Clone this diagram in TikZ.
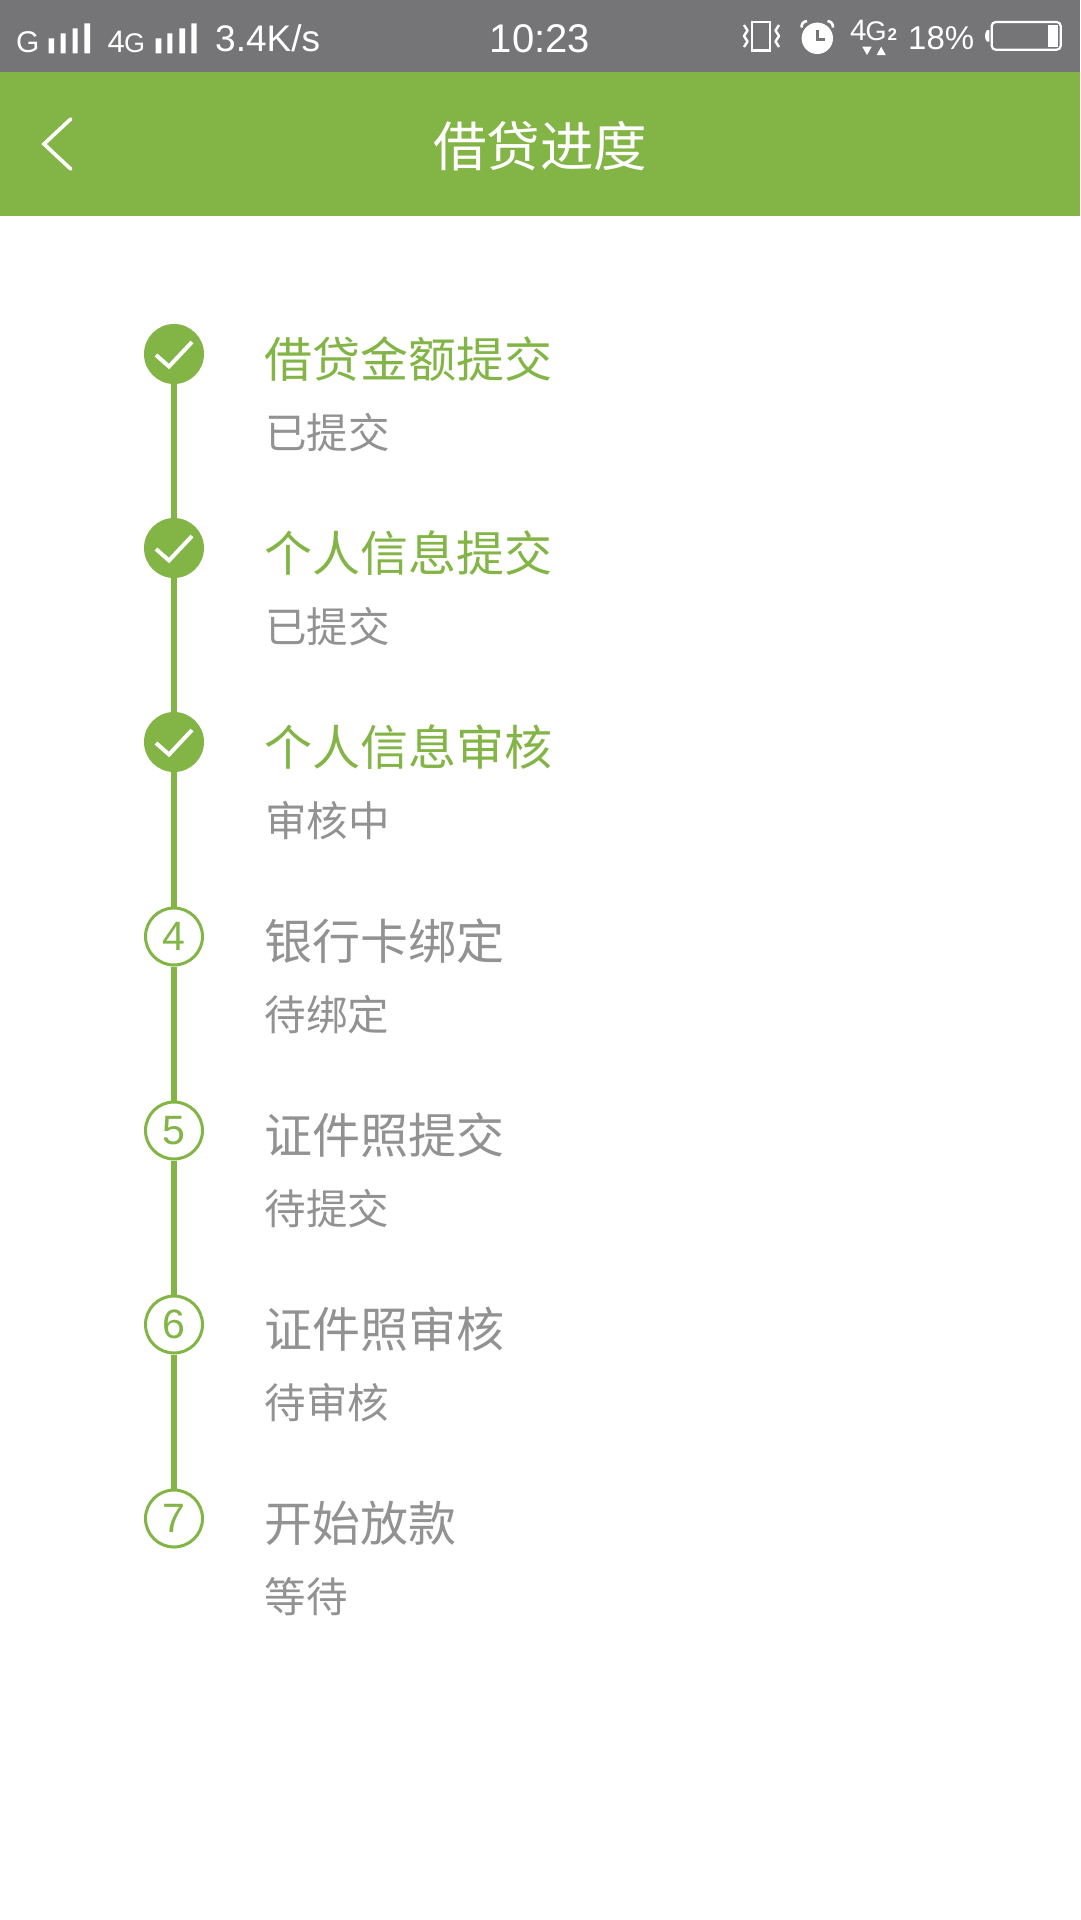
\documentclass[tikz,border=0pt]{standalone}
\usepackage{fontspec}
\setmainfont{Liberation Sans}
\newfontfamily\cjk{Noto Sans CJK SC}
\definecolor{appgreen}{HTML}{82B545}
\definecolor{bargray}{HTML}{757577}
\definecolor{txtgray}{HTML}{929292}
\newcommand{\fs}[1]{\fontsize{#1}{#1}\selectfont}
\tikzset{
  stat/.style={text=white,inner sep=0pt,anchor=base west},
  wbar/.style={fill=white,draw=none},
  donedot/.style={circle,fill=appgreen,draw=none,minimum size=60pt,inner sep=0pt},
  opendot/.style={circle,fill=white,draw=appgreen,line width=3pt,minimum size=57pt,inner sep=0pt,text=appgreen,font=\fs{41}},
  link/.style={draw=appgreen,line width=6pt},
  tick/.style={draw=white,line width=4pt},
  hdone/.style={anchor=west,inner sep=0pt,text=appgreen,font=\cjk\fs{48}},
  htodo/.style={anchor=west,inner sep=0pt,text=txtgray,font=\cjk\fs{48}},
  subtxt/.style={anchor=west,inner sep=0pt,text=txtgray,font=\cjk\fs{41.5}},
  wline/.style={draw=white,line width=2.4pt}
}
\begin{document}
\begin{tikzpicture}[x=1pt,y=-1pt]
\useasboundingbox (0,0) rectangle (1080,1920);
\fill[white] (0,0) rectangle (1080,1920);
\fill[bargray] (0,0) rectangle (1080,72);
\fill[appgreen] (0,72) rectangle (1080,216);
% status bar left
\node[stat,font=\fs{30}] (g1) at (16,52.3) {G};
\fill[wbar] (48.7,38.3) rectangle (54,53.3) (60.7,33.3) rectangle (65.7,53.3) (72.7,28.3) rectangle (77.7,53.3) (84.3,23.3) rectangle (90,53.3);
\node[stat,font=\fs{31}] (g2a) at (107.5,52.3) {4};
\node[stat,font=\fs{27}] (g2b) at (124,52.3) {G};
\fill[wbar] (155.7,38.3) rectangle (161.3,53.3) (167.3,33.3) rectangle (172.3,53.3) (179.3,28.3) rectangle (185,53.3) (191.3,23.3) rectangle (196.7,53.3);
\node[stat,font=\fs{37}] (speed) at (215,51) {3.4K/s};
\node[stat,anchor=base,font=\fs{40}] (clock) at (540,52) {10:23};
% vibrate
\draw[wline] (752,22) rectangle (770,50.5);
\draw[wline,line width=2.4pt,line join=round] (744,25) -- (747.5,30.5) -- (744,36) -- (747.5,41.5) -- (744,47);
\draw[wline,line width=2.4pt,line join=round] (779,25) -- (775.5,30.5) -- (779,36) -- (775.5,41.5) -- (779,47);
% alarm
\fill[white] (817.3,38.3) circle (15.7);
\draw[bargray,line width=2.6pt] (817.3,30) -- (817.3,39.3) -- (825,39.3);
\draw[wline,line width=2.6pt] (801.5,27.5) .. controls (801.5,24) and (803,21.5) .. (807,21);
\draw[wline,line width=2.6pt] (833,27.5) .. controls (833,24) and (831.5,21.5) .. (827.5,21);
% 4G2
\node[stat,font=\fs{29.5}] (net4) at (850,40.7) {4};
\node[stat,font=\fs{27}] (netg) at (865.5,40.7) {G};
\node[stat,font=\bfseries\fs{17}] (net2) at (887.5,40.7) {2};
\fill[white] (862.3,46.7) -- (871.7,46.7) -- (867,55) -- cycle;
\fill[white] (876.7,55) -- (885.7,55) -- (881.2,46.7) -- cycle;
\node[stat,font=\fs{33}] (batt) at (908,49.5) {18\%};
% battery
\draw[white,line width=2.2pt,rounded corners=4pt] (991.7,22) rectangle (1060.7,49.7);
\fill[white] (1048,25) rectangle (1058,46.7);
\fill[white] (989.3,30) -- (987,30) .. controls (985.5,32) and (985,34) .. (985,36) .. controls (985,38) and (985.5,40) .. (987,41.7) -- (989.3,41.7) -- cycle;
% header
\draw[white,line width=3.7pt,line cap=round,line join=miter] (70.7,119) -- (44,144) -- (70.7,169);
\node[inner sep=0pt,text=white,font=\cjk\fs{53.5}] (title) at (540,146) {借贷进度};
% steps
\node[donedot] (s1) at (174,354) {};
\node[donedot] (s2) at (174,548) {};
\node[donedot] (s3) at (174,742) {};
\node[opendot] (s4) at (174,936.5) {\raisebox{-5pt}{4}};
\node[opendot] (s5) at (174,1130.5) {\raisebox{-5pt}{5}};
\node[opendot] (s6) at (174,1324.5) {\raisebox{-5pt}{6}};
\node[opendot] (s7) at (174,1518.5) {\raisebox{-5pt}{7}};
\foreach \a/\b in {s1/s2,s2/s3,s3/s4,s4/s5,s5/s6,s6/s7}
  \draw[link] (\a) -- (\b);
\foreach \n in {s1,s2,s3}
  \draw[tick] ([shift={(-18,1)}]\n.center) -- ([shift={(-5,12.5)}]\n.center) -- ([shift={(18,-12)}]\n.center);
% labels
\node[hdone] (t1) at (264,359) {借贷金额提交};
\node[subtxt] (d1) at (265,433) {已提交};
\node[hdone] (t2) at (264,553) {个人信息提交};
\node[subtxt] (d2) at (265,627) {已提交};
\node[hdone] (t3) at (264,747) {个人信息审核};
\node[subtxt] (d3) at (265,821) {审核中};
\node[htodo] (t4) at (264,941) {银行卡绑定};
\node[subtxt] (d4) at (264.5,1015) {待绑定};
\node[htodo] (t5) at (264,1135) {证件照提交};
\node[subtxt] (d5) at (264.5,1209) {待提交};
\node[htodo] (t6) at (264,1329) {证件照审核};
\node[subtxt] (d6) at (264.5,1403) {待审核};
\node[htodo] (t7) at (264,1523) {开始放款};
\node[subtxt] (d7) at (264.5,1597) {等待};
\end{tikzpicture}
\end{document}
